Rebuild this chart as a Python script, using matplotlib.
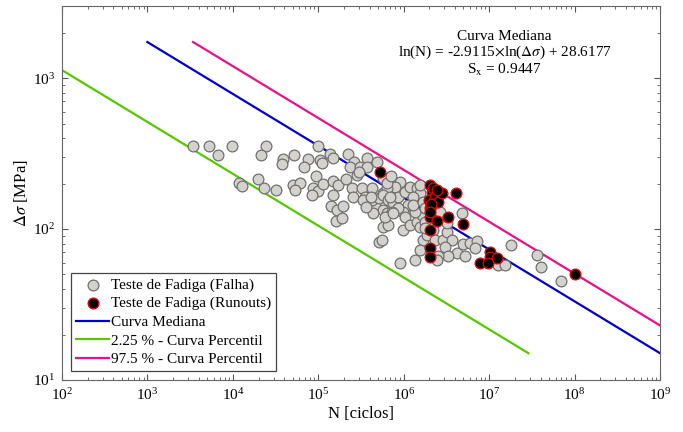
import numpy as np
import matplotlib.pyplot as plt

plt.rcParams['font.family'] = ['Liberation Serif', 'DejaVu Serif']
plt.rcParams['mathtext.fontset'] = 'stix'

# Teste de Fadiga (Falha): N [ciclos], delta sigma [MPa]
n_falha = [3.43e3, 5.26e3, 6.70e3, 9.77e3, 2.44e4, 2.13e4, 3.86e4, 3.76e4, 5.20e4, 7.58e4,
           6.81e4, 9.93e4, 1.05e5, 1.10e5, 1.37e5, 1.49e5, 2.23e5, 2.62e5, 2.35e5, 3.08e5,
           3.72e5, 3.72e5, 4.87e5, 9.40e4, 1.18e4, 1.28e4, 1.97e4, 2.32e4, 3.20e4, 5.06e4,
           6.11e4, 5.33e4, 8.67e4, 9.93e4, 8.44e4, 1.14e5, 1.49e5, 1.70e5, 2.11e5, 2.48e5,
           2.84e5, 3.00e5, 1.49e5, 1.41e5, 1.66e5, 1.95e5, 1.61e5, 1.90e5, 2.55e5, 3.25e5,
           3.52e5, 4.26e5, 3.72e5, 4.61e5, 4.26e5, 5.14e5, 5.72e5, 5.72e5, 6.37e5, 4.37e5,
           5.72e5, 6.55e5, 5.14e5, 9.04e5, 7.91e5, 6.37e5, 5.72e5, 6.55e5, 7.50e5, 8.57e5,
           1.04e6, 1.19e6, 1.43e6, 1.55e6, 1.28e6, 1.12e6, 9.82e5, 8.57e5, 7.29e5, 6.04e5,
           1.04e6, 9.82e5, 1.19e6, 1.43e6, 1.55e6, 1.64e6, 1.36e6, 1.28e6, 5.57e5, 9.04e5,
           1.68e6, 1.87e6, 2.20e6, 2.32e6, 2.88e6, 3.21e6, 3.67e6, 3.04e6, 4.21e6, 3.30e6,
           2.52e6, 5.21e6, 4.94e6, 5.97e6, 7.21e6, 6.82e6, 1.55e6, 1.36e6, 2.45e6, 4.81e6,
           1.27e7, 1.53e7, 1.80e7, 3.63e7, 4.05e7, 6.93e7, 5.72e5, 6.37e5, 7.10e5, 1.55e6,
           1.68e6, 1.77e6, 1.77e6, 1.77e6, 2.66e6, 3.21e6, 3.34e5, 4.14e5, 6.90e5, 3.62e5,
           7.50e5]
s_falha = [355, 355, 309, 355, 355, 309, 291, 269, 309, 291,
           257, 355, 286, 274, 314, 295, 314, 278, 257, 257,
           295, 257, 278, 224, 202, 193, 214, 187, 181, 196,
           202, 181, 187, 179, 168, 199, 208, 196, 214, 187,
           228, 239, 168, 142, 134, 142, 113, 118, 163, 187,
           163, 187, 144, 144, 156, 160, 173, 134, 128, 128,
           103, 106, 82, 205, 190, 187, 168, 156, 149, 163,
           176, 190, 187, 173, 163, 144, 130, 138, 130, 120,
           120, 98, 106, 111, 103, 124, 130, 144, 85, 60,
           85, 91, 98, 85, 85, 95, 85, 76, 69, 66,
           66, 66, 80, 81, 83, 75, 73, 62, 62, 128,
           58, 58, 78, 67, 56, 45, 218, 202, 224, 196,
           151, 138, 111, 102, 130, 110, 156, 163, 163, 140,
           128]

# Teste de Fadiga (Runouts)
n_runout = [5.27e5, 2.03e6, 2.14e6, 1.98e6, 2.32e6, 2.52e6, 2.03e6, 2.03e6, 2.81e6, 4.09e6,
            3.30e6, 2.45e6, 4.94e6, 2.03e6, 2.03e6, 2.03e6, 7.82e6, 1.02e7, 1.02e7, 1.24e7,
            9.70e6, 1.01e8, 2.20e6, 2.45e6, 2.08e6, 2.03e6]
s_runout = [239, 196, 176, 156, 163, 151, 138, 120, 173, 173,
            120, 113, 108, 98, 75, 65, 60, 70, 65, 64,
            60, 50, 187, 181, 146, 130]

# ln(N) = b*ln(S) + a
slope = -2.9115
a_mediana = 28.6177
a_p225 = 25.07
a_p975 = 29.85
s_x = 0.9447
s_range = [15.06, 1733]

fig = plt.figure(figsize=(6.83, 4.32), dpi=100)
ax = fig.add_axes([0.0908, 0.1204, 0.8755, 0.8656])

s_line = np.array(s_range)
for a, color, label in [(a_mediana, '#0000cc', 'Curva Mediana'),
                        (a_p225, '#55c800', '2.25 % - Curva Percentil'),
                        (a_p975, '#e8118a', '97.5 % - Curva Percentil')]:
    n_line = np.exp(slope * np.log(s_line) + a)
    ax.plot(n_line, s_line, color=color, lw=1.6, label=label, zorder=2)

ax.scatter(n_falha, s_falha, s=60, facecolor='#d4d2cc', edgecolor='#707070',
           linewidth=0.9, zorder=3, label='Teste de Fadiga (Falha)')
ax.scatter(n_runout, s_runout, s=60, facecolor='black', edgecolor='#ee0000',
           linewidth=0.9, zorder=4, label='Teste de Fadiga (Runouts)')

ax.set_xscale('log')
ax.set_yscale('log')
ax.set_xlim(1e2, 1e9)
ax.set_ylim(10, 3000)
ax.set_xlabel('N [ciclos]', fontsize=12, labelpad=2)
ax.set_ylabel(r'$\Delta\sigma$ [MPa]', fontsize=12, labelpad=2)
ax.tick_params(which='both', direction='in', top=True, right=True, labelsize=11,
               color='#555555')
ax.tick_params(which='major', length=4, pad=5)
ax.tick_params(which='minor', length=2)
for sp in ax.spines.values():
    sp.set_color('#666666')

ax.text(0.74, 0.935, 'Curva Mediana\n'
        r'ln(N) = -2.9115$\times$ln($\Delta\sigma$) + 28.6177' '\n'
        r'S$_{\rm x}$ = 0.9447',
        transform=ax.transAxes, ha='center', va='top', fontsize=11, linespacing=1.05)

h, l = ax.get_legend_handles_labels()
order = [3, 4, 0, 1, 2]
leg = ax.legend([h[i] for i in order], [l[i] for i in order], loc='lower left',
                fontsize=11, fancybox=False, edgecolor='#444444', framealpha=1,
                handlelength=2.2, handletextpad=0.1, borderaxespad=0.6,
                labelspacing=0.32, borderpad=0.3)
leg.get_frame().set_linewidth(0.9)

fig.savefig('out.png', dpi=100)
